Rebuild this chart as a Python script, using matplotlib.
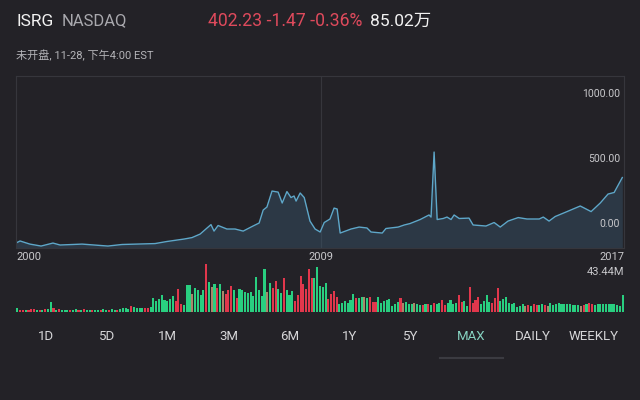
import matplotlib
matplotlib.use("Agg")
import matplotlib.pyplot as plt
from matplotlib.lines import Line2D

plt.rcParams['font.family'] = ['Roboto', 'Noto Sans CJK SC', 'DejaVu Sans']

# ---------------- data ----------------
price_year = [2000.00, 2000.12, 2000.41, 2000.74, 2001.09, 2001.30, 2001.95, 2002.71, 2003.13,
              2004.10, 2004.45, 2004.96, 2005.19, 2005.43, 2005.60, 2005.75, 2005.84, 2005.96,
              2006.22, 2006.46, 2006.70, 2006.99, 2007.17, 2007.29, 2007.40, 2007.55, 2007.73,
              2007.85, 2007.99, 2008.11, 2008.20, 2008.26, 2008.38, 2008.50, 2008.67, 2008.82,
              2008.97, 2009.09, 2009.26, 2009.38, 2009.47, 2009.56, 2009.88, 2010.12, 2010.35,
              2010.47, 2010.80, 2010.91, 2011.27, 2011.45, 2011.62, 2011.92, 2012.18, 2012.24,
              2012.33, 2012.42, 2012.60, 2012.71, 2012.83, 2012.92, 2013.07, 2013.36, 2013.48,
              2013.86, 2014.10, 2014.28, 2014.51, 2014.81, 2015.07, 2015.43, 2015.55, 2015.72,
              2015.90, 2016.25, 2016.64, 2016.76, 2016.96, 2017.23, 2017.46, 2017.64, 2017.88]
price_value = [-154, -138, -162, -177, -154, -169, -162, -177, -165,
               -158, -142, -123, -112, -85, -46, -12, -62, -19,
               -46, -46, -62, -23, 0, 100, 123, 246, 238,
               154, 242, 196, 208, 169, 231, 196, 15, -46,
               -69, 4, 31, 115, 108, -77, -46, -31, -38,
               -69, -77, -42, -31, -15, -4, 27, 62, 46,
               546, 27, 35, 46, 27, 62, 35, 38, -15,
               -23, 4, -31, 15, 42, 31, 31, 46, 15,
               50, 88, 131, 115, 88, 154, 223, 235, 350]

# monthly volume (millions), colour codes: g = up, r = down, t = mixed
vol_2000_2004 = [3.6, 1.8, 1.8, 1.8, 1.8, 2.7, 2.7, 1.8, 1.8, 1.8, 2.7, 2.7, 9.1, 3.6, 1.8, 2.7,
                 1.8, 1.8, 1.8, 1.8, 1.8, 2.7, 1.8, 1.8, 2.7, 1.8, 1.8, 1.8, 1.8, 1.8, 1.8, 2.7,
                 1.8, 1.8, 2.7, 1.8, 1.8, 2.7, 3.6, 3.6, 2.7, 5.5, 4.6, 3.6, 3.6, 3.6, 3.6, 3.6, 4.6]
col_2000_2004 = "grrgrrrgrg" "rggrgrgggr" "ggrgrggrgg" "rggrggrggg" "grggggrrg"

vol_2004_2009 = [12.7, 10.0, 11.8, 15.5, 10.9, 10.0, 11.8, 14.6, 10.0, 20.9, 7.3, 6.4, 24.6, 24.6,
                 16.4, 21.8, 20.0, 15.5, 20.0, 43.44, 27.3, 22.8, 25.5, 21.8, 25.5, 19.1, 16.4,
                 20.0, 23.7, 20.0, 12.7, 20.9, 20.0, 18.2, 17.3, 18.2, 14.6, 31.9, 20.0, 14.6,
                 39.1, 18.2, 26.4, 21.8, 28.2, 20.9, 17.3, 30.9, 20.0, 15.5, 19.1, 10.0, 15.5,
                 32.8, 25.5, 20.9, 39.1, 30.9]
col_2004_2009 = ("gggggggg" "rrr" "ggg" "t" "gggg" "r" "g" "t" "g" "r" "g" "t" "rrr" "g" "r"
                 "gggggggggg" "t" "g" "rr" "gg" "r" "ggg" "rrrrrrr")

vol_2009_2017 = [30.9, 41.0, 23.7, 22.8, 26.4, 11.8, 16.4, 19.1, 13.7, 7.3, 8.2, 10.0, 8.2, 10.9,
                 16.4, 12.7, 12.7, 13.7, 13.7, 12.7, 13.7, 9.1, 9.1, 13.7, 8.2, 10.0, 10.9, 11.8,
                 5.5, 7.3, 9.1, 12.7, 8.2, 9.1, 7.3, 7.3, 8.2, 7.3, 6.4, 6.4, 7.3, 7.3, 6.4, 8.2,
                 7.3, 8.2, 10.9, 6.4, 8.2, 10.9, 7.3, 8.2, 15.5, 9.1, 10.0, 5.5, 22.8, 8.2, 10.9,
                 13.7, 7.3, 10.0, 15.5, 9.1, 8.2, 12.7, 21.8, 10.0, 11.8, 13.7, 8.2, 7.3, 8.2,
                 4.6, 5.5, 7.3, 5.5, 6.4, 5.5, 7.3, 6.4, 6.4, 7.3, 6.4, 5.5, 8.2, 6.4, 7.3, 8.2,
                 7.3, 7.3, 7.3, 7.3, 6.4, 6.4, 6.4, 5.5, 6.4, 7.3, 8.2, 7.3, 6.4, 7.3, 7.3, 7.3,
                 7.3, 7.3, 7.3, 7.3, 6.4, 5.5, 15.5]
col_2009_2017 = ("ggggg" "rrrr" "gggggg" "r" "gg" "t" "g" "rrr" "gggggggg" "r" "t" "ggg" "t" "gg"
                 "r" "g" "r" "g" "r" "gg" "rr" "gggg" "rr" "gg" "rrrr" "gggg" "rrr" "ggggggggg"
                 "t" "r" "g" "rr" "gg" "r" "t" "ggggggggggg" "t" "r" "g" "rr" "ggggggggggg")

x_tick_values = [2000, 2009, 2017.93]
x_tick_labels = ['2000', '2009', '2017']
y_tick_values = [0, 500, 1000]
y_tick_labels = ['0.00', '500.00', '1000.00']
volume_max_label = '43.44M'
range_buttons = ['1D', '5D', '1M', '3M', '6M', '1Y', '5Y', 'MAX', 'DAILY', 'WEEKLY']
active_button = 'MAX'

# ---------------- style ----------------
BG = '#232227'
LINE = '#5ea7c9'
FILL = '#3a5870'
GRID = '#36363c'
TXT = '#c9c9cc'
GREEN = '#29cf80'
RED = '#e1374c'
TAN = '#a8886a'
cmap = {'g': GREEN, 'r': RED, 't': TAN}

W, H = 640, 400
fig = plt.figure(figsize=(6.4, 4.0), dpi=100, facecolor=BG)


def rect(l, t, r, b):
    return [l / W, 1 - b / H, (r - l) / W, (b - t) / H]


def fx(x):
    return x / W


def fy(y):
    return 1 - y / H


# ---------------- price chart ----------------
ax = fig.add_axes(rect(16, 76, 624, 248))
ax.set_facecolor(BG)
ax.set_xlim(2000, 2017.93)
ax.set_ylim(-192, 1131)
ybot = ax.get_ylim()[0]
ax.fill_between(price_year, price_value, ybot, color=FILL, alpha=0.42, lw=0)
ax.plot(price_year, price_value, color=LINE, lw=1.0)
ax.axvline(2009, color=GRID, lw=0.8, zorder=0)
for s in ax.spines.values():
    s.set_color(GRID)
    s.set_linewidth(0.8)

ax.yaxis.tick_right()
ax.set_yticks(y_tick_values)
ax.set_yticklabels(y_tick_labels)
ax.tick_params(axis='y', length=0, pad=-3, labelsize=7.5, labelcolor=TXT)
for lab in ax.get_yticklabels():
    lab.set_ha('right')

ax.set_xticks(x_tick_values)
ax.set_xticklabels(x_tick_labels)
ax.tick_params(axis='x', length=0, pad=3, labelsize=8, labelcolor=TXT)
xl = ax.get_xticklabels()
xl[0].set_ha('left')
xl[2].set_ha('right')

# ---------------- volume ----------------
volumes = vol_2000_2004 + vol_2004_2009 + vol_2009_2017
codes = col_2000_2004 + col_2004_2009 + col_2009_2017
n = min(len(volumes), len(codes))
volumes = volumes[:n]
codes = codes[:n]
axv = fig.add_axes(rect(16, 264, 624, 312))
axv.set_facecolor('none')
axv.bar(range(n), volumes, width=0.75, color=[cmap[c] for c in codes], lw=0)
axv.set_xlim(-0.5, n - 0.5)
axv.set_ylim(0, max(volumes))
axv.axis('off')
fig.text(fx(624), fy(272), volume_max_label, ha='right', va='center', fontsize=8, color=TXT)

# ---------------- header ----------------
fig.text(fx(16), fy(21), 'ISRG', ha='left', va='center', fontsize=12.5, color='#f2f2f2')
fig.text(fx(62), fy(21), 'NASDAQ', ha='left', va='center', fontsize=12, color='#a9a9ae')
fig.text(fx(208), fy(21), '402.23 -1.47 -0.36%', ha='left', va='center', fontsize=12.7,
         color='#de4a5c')
fig.text(fx(370), fy(21), '85.02万', ha='left', va='center', fontsize=12.5, color='#f2f2f2')
fig.text(fx(16), fy(55), '未开盘, 11-28, 下午4:00 EST', ha='left', va='center', fontsize=8,
         color='#b4b4b8')

# ---------------- range buttons ----------------
btn_x0, btn_dx = 46, 60.8
for i, b in enumerate(range_buttons):
    c = '#86d3c1' if b == active_button else '#d6d6d8'
    fig.text(fx(btn_x0 + i * btn_dx), fy(336), b, ha='center', va='center', fontsize=9.5, color=c)
fig.add_artist(Line2D([fx(440), fx(503)], [fy(358), fy(358)], color='#3b3b41', lw=1.5))

fig.savefig('out.png', dpi=100, facecolor=BG)
